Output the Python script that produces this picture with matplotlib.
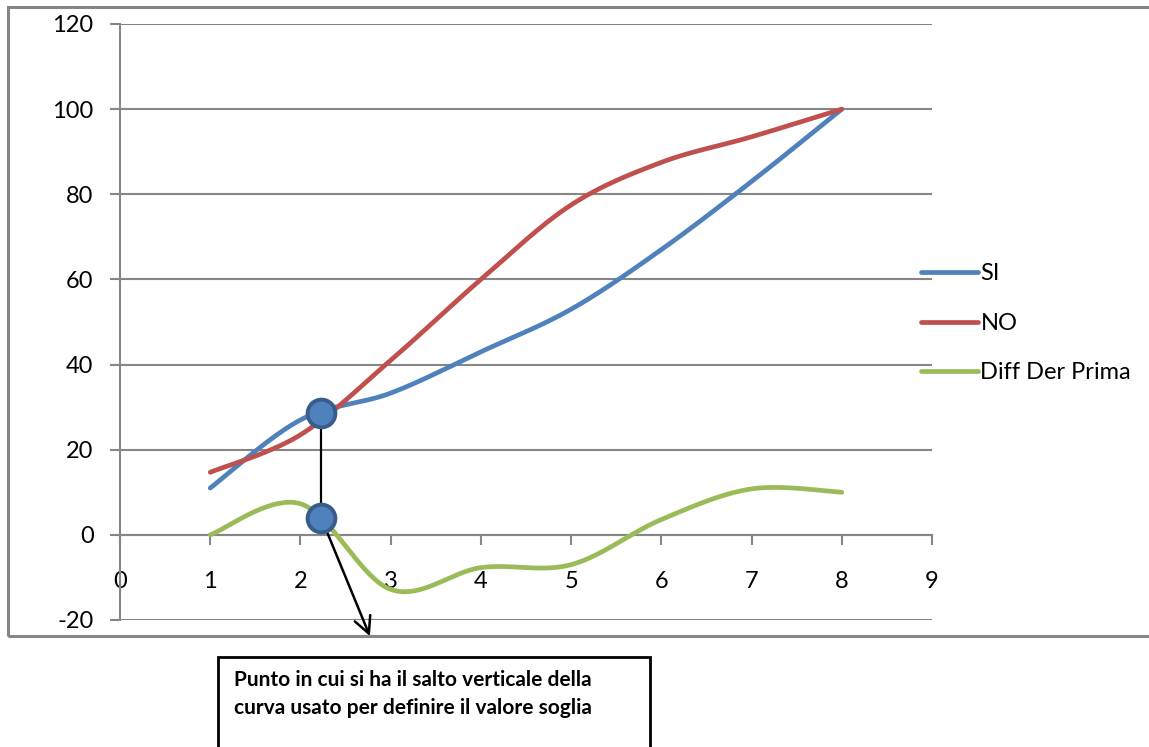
import matplotlib
matplotlib.use("Agg")
import matplotlib.pyplot as plt
import matplotlib.patches as patches
import numpy as np

x_vals = [1, 2, 3, 4, 5, 6, 7, 8]
si = [11, 27, 33.3, 43, 53, 67, 83, 100]
no = [14.7, 23.5, 41, 60, 77.5, 87.5, 93.5, 100]
diff_der = [0, 7.3, -12.8, -7.7, -7, 3.6, 10.8, 10]
series_names = ['SI', 'NO', 'Diff Der Prima']

mark_x = 2.23
mark_top = 28.7
mark_bottom = 4.0

note = ("Punto in cui si ha il salto verticale della\n"
        "curva usato per definire il valore soglia")

BLUE = '#4F81BD'
RED = '#C0504D'
GREEN = '#9BBB59'
GRID = '#868686'


def smooth(xs, ys, n=40):
    # excel-like smoothed line (catmull-rom through the points)
    p = np.column_stack([xs, ys]).astype(float)
    p = np.vstack([p[0], p, p[-1]])
    out = []
    t = np.linspace(0, 1, n)[:, None]
    for i in range(1, len(p) - 2):
        p0, p1, p2, p3 = p[i - 1], p[i], p[i + 1], p[i + 2]
        c1 = p1 + (p2 - p0) / 6
        c2 = p2 - (p3 - p1) / 6
        seg = ((1 - t) ** 3) * p1 + 3 * ((1 - t) ** 2) * t * c1 \
            + 3 * (1 - t) * t ** 2 * c2 + t ** 3 * p2
        out.append(seg)
    out = np.vstack(out)
    return out[:, 0], out[:, 1]


plt.rcParams['font.family'] = ['Lato', 'DejaVu Sans']
plt.rcParams['axes.unicode_minus'] = False

fig = plt.figure(figsize=(11.49, 7.47), dpi=100)
ax = fig.add_axes([120 / 1149, 127 / 747, 812 / 1149, 596 / 747])

# chart area border
fig.patches.append(patches.Rectangle((8 / 1149, 111 / 747), 1.2, 629 / 747,
                                     transform=fig.transFigure, fill=False,
                                     edgecolor=GRID, linewidth=2.2))

for ys, c, name in zip([si, no, diff_der], [BLUE, RED, GREEN], series_names):
    sx, sy = smooth(x_vals, ys)
    ax.plot(sx, sy, color=c, lw=3.4, solid_capstyle='round', label=name, zorder=3)

ax.set_xlim(0, 9)
ax.set_ylim(-20, 120)
ax.set_xticks(range(0, 10))
ax.set_yticks(range(-20, 121, 20))
ax.yaxis.grid(True, color=GRID, lw=1.5)
ax.set_axisbelow(True)

for s in ['top', 'right']:
    ax.spines[s].set_visible(False)
ax.spines['bottom'].set_position(('data', 0))
ax.spines['bottom'].set_color(GRID)
ax.spines['bottom'].set_linewidth(1.5)
ax.spines['left'].set_color(GRID)
ax.spines['left'].set_linewidth(1.5)
ax.tick_params(axis='x', direction='out', length=7, width=1.5, color=GRID,
               pad=19, labelsize=17)
ax.tick_params(axis='y', direction='out', length=7, width=1.5, color=GRID,
               pad=12, labelsize=17)

# marker points and connector
ax.plot([mark_x, mark_x], [mark_top, mark_bottom], color='black', lw=1.6, zorder=4)
ax.annotate('', xy=(2.77, -23.8), xytext=(mark_x, mark_bottom),
            arrowprops=dict(arrowstyle='->', color='black', lw=1.8,
                            mutation_scale=30, shrinkA=0, shrinkB=0),
            annotation_clip=False, zorder=4)
ax.plot([mark_x, mark_x], [mark_top, mark_bottom], 'o', ms=20, mfc=BLUE,
        mec='#385D8A', mew=2.8, zorder=5)

leg = ax.legend(loc='upper left', bbox_to_anchor=(912 / 1149, 493 / 747),
                bbox_transform=fig.transFigure, frameon=False, fontsize=17,
                handlelength=2.4, handletextpad=0.1, labelspacing=1.2,
                borderaxespad=0)

# annotation box
fig.patches.append(patches.Rectangle((218 / 1149, -0.1), 432 / 1149, 0.1 + 90 / 747,
                                     transform=fig.transFigure, fill=False,
                                     edgecolor='black', linewidth=2))
fig.text(234 / 1149, 1 - 670 / 747, note, fontsize=15, fontweight='bold',
         va='top', ha='left', linespacing=1.5)

fig.savefig('out.png', dpi=100)
